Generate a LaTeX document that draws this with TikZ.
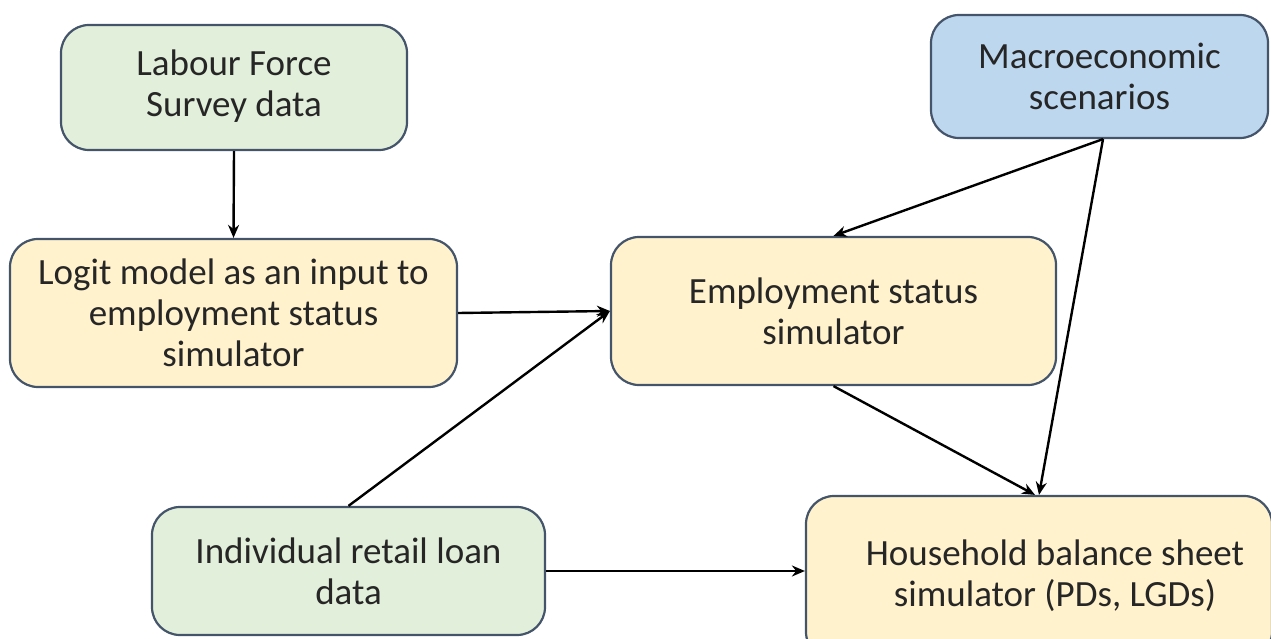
\documentclass[tikz,border=0pt]{standalone}
\usepackage{fontspec}
\setmainfont{Carlito}
\usetikzlibrary{arrows.meta,calc}
\definecolor{boxgreen}{HTML}{E2EFDA}
\definecolor{boxblue}{HTML}{BDD7EE}
\definecolor{boxyellow}{HTML}{FFF2CC}
\definecolor{boxedge}{HTML}{44546A}
\tikzset{
  box/.style={draw=boxedge, line width=2.2pt, rounded corners=28pt, inner sep=0pt,
    align=center, font=\fontsize{37}{41}\selectfont, text=black!85},
  greenbox/.style={box, fill=boxgreen},
  bluebox/.style={box, fill=boxblue},
  yellowbox/.style={box, fill=boxyellow},
  plain/.style={inner sep=0pt, align=center, font=\fontsize{37}{41}\selectfont, text=black!85},
  conn/.style={draw=black, line width=2.4pt, -{Stealth[length=13pt,width=11pt]}},
}
\begin{document}
\begin{tikzpicture}[x=1pt,y=-1pt]
\useasboundingbox (0,0) rectangle (1271,639);
\clip (0,0) rectangle (1271,639);
\node[greenbox, minimum width=346pt, minimum height=125pt] (lfs) at (234,87.5) {\raisebox{-5pt}{\begin{tabular}{@{}c@{}}Labour Force\\Survey data\end{tabular}}};
\node[bluebox, minimum width=337pt, minimum height=123pt] (macro) at (1099.5,76.5) {Macroeconomic\\scenarios};
\node[yellowbox, minimum width=447pt, minimum height=148pt] (logit) at (233.5,313) {Logit model as an input to\\employment status\\simulator};
\node[yellowbox, minimum width=445pt, minimum height=148pt] (emp) at (833.5,311) {Employment status\\simulator};
\node[greenbox, minimum width=393pt, minimum height=128pt] (ind) at (348.5,571) {Individual retail loan\\data};
\node[yellowbox, minimum width=466pt, minimum height=164pt] (hh) at (1039,578) {};
\node[plain] (hht) at (1055,576) {Household balance sheet\\simulator (PDs, LGDs)};
\draw[conn] (lfs.south) -- (logit.north);
\draw[conn] (logit.east) -- (emp.west);
\draw[conn] (ind.north) -- (emp.west);
\draw[conn] ($(macro.south)+(3.5,0)$) -- (emp.north);
\draw[conn] ($(macro.south)+(3.5,0)$) -- (hh.north);
\draw[conn] (emp.south) -- ($(hh.north)+(-4,0)$);
\draw[conn] (ind.east) -- (hh.west |- ind.east);
\end{tikzpicture}
\end{document}
